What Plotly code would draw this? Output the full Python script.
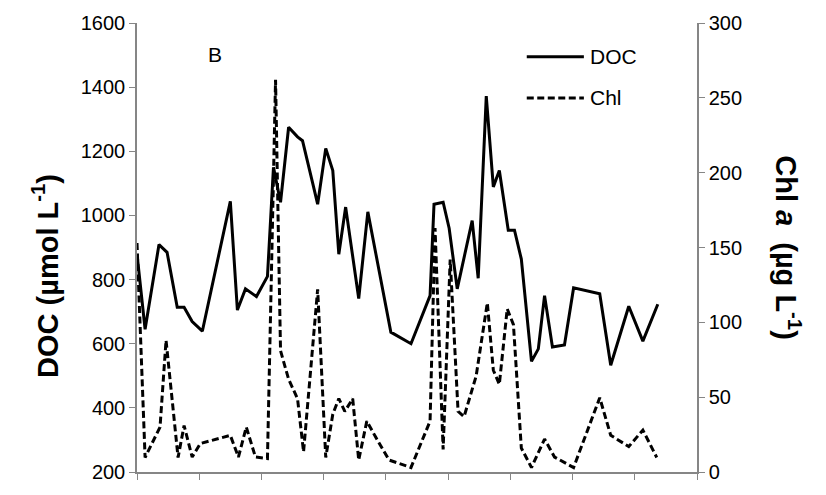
import plotly.graph_objects as go

# x positions in days (axis ticks every 30 days)
doc_x = [0, 3.9, 10.6, 14.5, 19.4, 22.7, 26.6, 31.5, 45, 48.4, 52.3, 57.6, 62.9,
         65.8, 69.2, 73.1, 77.4, 79.8, 84.7, 87.1, 91, 94.4, 97.3, 100.6, 106.9,
         111.3, 122.4, 132.1, 141.3, 143.2, 147.6, 150.5, 154.4, 161.6, 164.5,
         168.4, 171.8, 174.7, 179, 182, 185.3, 190.2, 193.5, 196.5, 200.3, 206.1,
         210.5, 223.1, 228.4, 237.1, 243.9, 251.1]
doc_y = [880, 645, 909, 885, 714, 714, 669, 639, 1044, 705, 771, 747, 810,
         1150, 1041, 1275, 1245, 1233, 1101, 1035, 1209, 1140, 879, 1026, 741,
         1011, 636, 600, 750, 1035, 1041, 960, 771, 984, 804,
         1372, 1089, 1140, 954, 954, 864, 545, 584, 750, 590, 596,
         774, 756, 533, 717, 608, 723]

chl_x = [0, 3.9, 11.1, 14, 19.8, 22.7, 26.6, 30.5, 45, 48.9, 52.7, 57.1, 62.9,
         66.8, 69.2, 73.1, 77.4, 80.3, 87.1, 91, 94.4, 97.3, 100.2, 104, 106.9,
         110.8, 115.2, 121.5, 132.1, 141.3, 143.7, 147.6, 151, 154.8, 157.7,
         163.5, 168.9, 171.8, 174.7, 178.5, 181.5, 185.3, 190.2, 196.5, 201.3,
         210.5, 223.1, 228.4, 237.1, 243.9, 250.6]
chl_y = [153, 9.7, 30, 88, 9.7, 31, 10, 19, 24.5, 10, 30, 10, 9,
         262, 81, 62, 49, 13.5, 122, 9.7, 38.6, 49, 40.5, 49, 8,
         34, 23, 8, 3, 34, 163, 15, 142, 40.5, 37,
         64, 113, 68, 58.6, 109, 98.5, 16, 3, 22, 10,
         3, 49.6, 24.5, 17, 28, 9.7]

doc_ticks = [200, 400, 600, 800, 1000, 1200, 1400, 1600]
chl_ticks = [0, 50, 100, 150, 200, 250, 300]
x_ticks = [0, 30, 60, 90, 120, 150, 180, 210, 240, 270]

FONT = "Liberation Sans, Arial, sans-serif"
GRAY = "#868686"
LW = 3
DASH = "7px,3.5px"

fig = go.Figure()
fig.add_trace(go.Scatter(x=doc_x, y=doc_y, mode="lines", name="DOC",
                         line=dict(color="black", width=LW), yaxis="y"))
fig.add_trace(go.Scatter(x=chl_x, y=chl_y, mode="lines", name="Chl",
                         line=dict(color="black", width=LW, dash=DASH),
                         yaxis="y2"))

fig.update_layout(
    width=826, height=495,
    margin=dict(l=137, r=129, t=17, b=12),
    paper_bgcolor="white", plot_bgcolor="white",
    showlegend=False,
    font=dict(family=FONT, color="black", size=20),
    xaxis=dict(range=[0, 270], tickvals=x_ticks, showticklabels=False,
               ticks="outside", ticklen=6, tickcolor=GRAY, tickwidth=1,
               showline=True, linecolor=GRAY, linewidth=1.5,
               showgrid=False, zeroline=False),
    yaxis=dict(range=[200, 1600], tickvals=doc_ticks,
               ticks="outside", ticklen=6, tickcolor=GRAY,
               showline=True, linecolor=GRAY, linewidth=1.5,
               showgrid=False, zeroline=False,
               tickfont=dict(size=20, family=FONT, color="black")),
    yaxis2=dict(range=[0, 300], tickvals=chl_ticks, overlaying="y", side="right",
                ticks="outside", ticklen=6, tickcolor=GRAY,
                showline=True, linecolor=GRAY, linewidth=1.5,
                showgrid=False, zeroline=False,
                tickfont=dict(size=20, family=FONT, color="black")),
)

# axis titles
fig.add_annotation(xref="paper", yref="paper", x=-0.163, y=0.436,
                   text="<b>DOC (µmol L<sup>-1</sup>)</b>", textangle=-90,
                   showarrow=False, xanchor="center", yanchor="middle",
                   font=dict(size=29, family=FONT))
fig.add_annotation(xref="paper", yref="paper", x=1.163, y=0.50,
                   text="<b>Chl <i>a</i>  (µg L<sup>-1</sup>)</b>", textangle=90,
                   showarrow=False, xanchor="center", yanchor="middle",
                   font=dict(size=29, family=FONT))

# panel label
fig.add_annotation(xref="paper", yref="paper", x=0.14, y=0.93,
                   text="B", showarrow=False, xanchor="center", yanchor="middle",
                   font=dict(size=21, family=FONT))

# manual legend
fig.add_shape(type="line", xref="paper", yref="paper", x0=0.696, x1=0.798,
              y0=0.925, y1=0.925, line=dict(color="black", width=LW))
fig.add_shape(type="line", xref="paper", yref="paper", x0=0.696, x1=0.798,
              y0=0.833, y1=0.833, line=dict(color="black", width=LW, dash=DASH))
fig.add_annotation(xref="paper", yref="paper", x=0.805, y=0.925, text="DOC",
                   showarrow=False, xanchor="left", yanchor="middle",
                   font=dict(size=21, family=FONT))
fig.add_annotation(xref="paper", yref="paper", x=0.805, y=0.833, text="Chl",
                   showarrow=False, xanchor="left", yanchor="middle",
                   font=dict(size=21, family=FONT))

fig.write_html("out.html")
